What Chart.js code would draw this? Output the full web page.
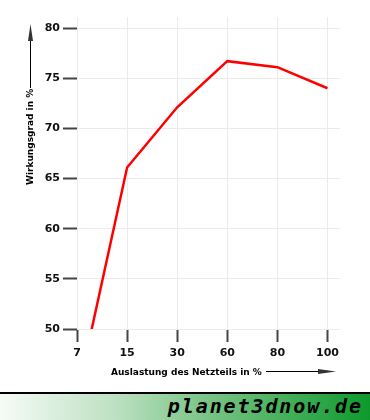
<!DOCTYPE html>
<html>
<head>
<meta charset="utf-8">
<script src="https://cdn.jsdelivr.net/npm/chart.js@4/dist/chart.umd.min.js"></script>
<style>
    body { margin: 0; background: #fff; }
    #wrap { width: 370px; height: 420px; position: relative; }
    #banner {
        position: absolute; left: 0; top: 392px; width: 370px; height: 26px;
        border-top: 2px solid #000;
        background: linear-gradient(to right, #f6fbf6 0%, #bfe2c4 30%, #7cc588 55%, #0e992d 100%);
    }
    #banner span {
        position: absolute; right: 7px; top: 0px;
        font: italic bold 20px "DejaVu Sans Mono", monospace;
        letter-spacing: 1.9px; color: #000;
    }
</style>
</head>
<body>
<div id="wrap">
    <canvas id="chart" width="370" height="392"></canvas>
    <div id="banner"><span>planet3dnow.de</span></div>
</div>
<script>
const loadLabels = ['7', '15', '30', '60', '80', '100'];
const efficiency = [43.3, 66.1, 72.1, 76.7, 76.1, 74.0];
const yTicks = [50, 55, 60, 65, 70, 75, 80];

const xTitle = 'Auslastung des Netzteils in %';
const yTitle = 'Wirkungsgrad in %';

// arrows + axis captions drawn next to the plot
const captions = {
    id: 'captions',
    afterDraw(chart) {
        const ctx = chart.ctx;
        ctx.save();
        ctx.fillStyle = '#000';
        ctx.strokeStyle = '#000';
        ctx.font = 'bold 9px "DejaVu Sans"';
        ctx.textBaseline = 'alphabetic';

        // x caption
        ctx.textAlign = 'left';
        ctx.fillText(xTitle, 111, 375);
        ctx.lineWidth = 1;
        ctx.beginPath();
        ctx.moveTo(266, 371.5);
        ctx.lineTo(325, 371.5);
        ctx.stroke();
        ctx.beginPath();
        ctx.moveTo(336, 371.5);
        ctx.lineTo(318, 369);
        ctx.lineTo(318, 374);
        ctx.closePath();
        ctx.fillStyle = '#333';
        ctx.fill();

        // y caption
        ctx.fillStyle = '#000';
        ctx.translate(33, 185);
        ctx.rotate(-Math.PI / 2);
        ctx.fillText(yTitle, 0, 0);
        ctx.restore();

        ctx.save();
        ctx.strokeStyle = '#000';
        ctx.lineWidth = 1;
        ctx.beginPath();
        ctx.moveTo(30.5, 88);
        ctx.lineTo(30.5, 36);
        ctx.stroke();
        ctx.beginPath();
        ctx.moveTo(30.5, 24);
        ctx.lineTo(28, 41);
        ctx.lineTo(33, 41);
        ctx.closePath();
        ctx.fillStyle = '#333';
        ctx.fill();
        ctx.restore();
    }
};

function renderChart() {
    const ctx = document.getElementById('chart').getContext('2d');
    Chart.defaults.font.family = '"DejaVu Sans"';
    new Chart(ctx, {
        type: 'line',
        data: {
            datasets: [{
                data: efficiency.map((v, i) => ({ x: i, y: v })),
                borderColor: '#ff0000',
                borderWidth: 2.5,
                pointRadius: 0,
                tension: 0,
                clip: 0
            }]
        },
        options: {
            responsive: false,
            animation: false,
            layout: { padding: { top: 17, right: 30, left: 0, bottom: 0 } },
            plugins: {
                legend: { display: false },
                tooltip: { enabled: false }
            },
            scales: {
                x: {
                    type: 'linear',
                    min: 0,
                    max: 5.25,
                    afterBuildTicks: s => { s.ticks = loadLabels.map((_, i) => ({ value: i })); },
                    afterFit: s => { s.height = 63; },
                    border: { display: false },
                    grid: { color: '#ebebeb', tickColor: '#444', tickLength: 13, tickWidth: 2 },
                    ticks: {
                        padding: 5,
                        color: '#111',
                        font: { size: 11, weight: 'bold' },
                        maxRotation: 0,
                        callback: v => loadLabels[v]
                    }
                },
                y: {
                    min: 50,
                    max: 81.1,
                    afterBuildTicks: s => { s.ticks = yTicks.map(v => ({ value: v })); },
                    afterFit: s => { s.width = 77; },
                    border: { display: false },
                    grid: { color: '#ebebeb', tickColor: '#444', tickLength: 14, tickWidth: 2 },
                    ticks: {
                        padding: 3,
                        color: '#111',
                        font: { size: 11, weight: 'bold' }
                    }
                }
            }
        },
        plugins: [captions]
    });
}

document.addEventListener('DOMContentLoaded', renderChart);
</script>
</body>
</html>
